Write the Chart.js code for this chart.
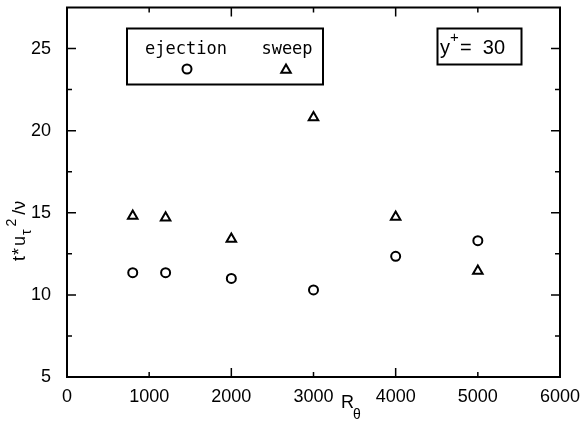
<!DOCTYPE html>
<html>
<head>
<meta charset="utf-8">
<script src="https://cdn.jsdelivr.net/npm/chart.js@4.4.1/dist/chart.umd.min.js"></script>
<style>
  html, body { margin: 0; padding: 0; background: #fff; }
  #wrap { width: 584px; height: 435px; }
</style>
</head>
<body>
<div id="wrap"><canvas id="chart" width="584" height="435"></canvas></div>
<script>
// Reynolds numbers (R_theta) and mean times between events
const reTheta = [800, 1200, 2000, 3000, 4000, 5000];
const ejection = [11.35, 11.35, 11.0, 10.3, 12.35, 13.3];
const sweep = [14.8, 14.7, 13.4, 20.8, 14.75, 11.45];
const xTicks = [0, 1000, 2000, 3000, 4000, 5000, 6000];
const yTicks = [5, 10, 15, 20, 25];
const yMinor = [7.5, 12.5, 17.5, 22.5];

const INK = '#000';
const tickFont = { family: 'Liberation Sans', size: 18 };

// frame with inward ticks on all four sides
const framePlugin = {
    id: 'frame',
    afterDraw(chart) {
        const { ctx, chartArea: a, scales: { x, y } } = chart;
        ctx.save();
        ctx.strokeStyle = INK;
        ctx.lineWidth = 2;
        ctx.strokeRect(a.left, a.top, a.right - a.left, a.bottom - a.top);
        ctx.lineWidth = 1.5;
        ctx.beginPath();
        xTicks.forEach((v, i) => {
            const px = x.getPixelForValue(v);
            const len = i % 2 === 0 ? 9 : 5;
            ctx.moveTo(px, a.bottom); ctx.lineTo(px, a.bottom - len);
            ctx.moveTo(px, a.top); ctx.lineTo(px, a.top + len);
        });
        const yt = yTicks.map(v => [v, 9]).concat(yMinor.map(v => [v, 5]));
        yt.forEach(([v, len]) => {
            const py = y.getPixelForValue(v);
            ctx.moveTo(a.left, py); ctx.lineTo(a.left + len, py);
            ctx.moveTo(a.right, py); ctx.lineTo(a.right - len, py);
        });
        ctx.stroke();
        ctx.restore();
    }
};

// axis titles with sub/superscripts
const titlesPlugin = {
    id: 'titles',
    afterDraw(chart) {
        const { ctx } = chart;
        ctx.save();
        ctx.fillStyle = INK;
        ctx.textBaseline = 'alphabetic';

        // y title: t*u_tau^2/nu, rotated
        ctx.translate(25, 261);
        ctx.rotate(-Math.PI / 2);
        let cx = 0;
        ctx.font = '18px "Liberation Sans"';
        ctx.fillText('t', cx, 0);
        cx += ctx.measureText('t').width + 1;
        ctx.fillText('*', cx, 0);
        cx += ctx.measureText('*').width + 2;
        ctx.fillText('u', cx, 0);
        cx += ctx.measureText('u').width + 1;
        ctx.font = '14px "Liberation Sans"';
        ctx.fillText('τ', cx, 6);
        const tw = ctx.measureText('τ').width;
        ctx.fillText('2', cx + tw + 3, -9);
        cx += tw + ctx.measureText('2').width + 7;
        ctx.font = '18px "Liberation Sans"';
        ctx.fillText('/ν', cx, 0);
        ctx.setTransform(1, 0, 0, 1, 0, 0);

        // x title: R_theta
        ctx.font = '18px "Liberation Sans"';
        ctx.fillText('R', 341, 408);
        ctx.font = '14px "Liberation Sans"';
        ctx.fillText('θ', 353, 419);
        ctx.restore();
    }
};

// legend box and y+ annotation box
const legendPlugin = {
    id: 'legendBoxes',
    afterDraw(chart) {
        const { ctx } = chart;
        ctx.save();
        ctx.strokeStyle = INK;
        ctx.fillStyle = INK;
        ctx.lineWidth = 2;
        ctx.strokeRect(127, 28.5, 196, 56);
        ctx.strokeRect(437.5, 28.5, 84, 36);

        ctx.font = '17px "DejaVu Sans Mono"';
        ctx.textAlign = 'center';
        ctx.textBaseline = 'alphabetic';
        ctx.fillText('ejection', 186, 54);
        ctx.fillText('sweep', 287, 54);

        const ds = chart.data.datasets;
        const drawOpts = (d) => ({
            pointStyle: d.pointStyle, radius: d.pointRadius,
            borderWidth: d.borderWidth, rotation: 0
        });
        ctx.fillStyle = '#fff';
        Chart.helpers.drawPoint(ctx, drawOpts(ds[0]), 187, 69);
        Chart.helpers.drawPoint(ctx, drawOpts(ds[1]), 286, 70);

        ctx.fillStyle = INK;
        ctx.textAlign = 'left';
        ctx.font = '20px "Liberation Sans"';
        ctx.fillText('y', 440, 54);
        ctx.font = '15px "Liberation Sans"';
        ctx.fillText('+', 450, 42);
        ctx.font = '20px "Liberation Sans"';
        ctx.fillText('=  30', 460, 54);
        ctx.restore();
    }
};

new Chart(document.getElementById('chart'), {
    type: 'scatter',
    data: {
        datasets: [
            {
                label: 'ejection',
                data: reTheta.map((r, i) => ({ x: r, y: ejection[i] })),
                pointStyle: 'circle',
                pointRadius: 4.5,
                borderWidth: 2,
                borderColor: INK,
                backgroundColor: '#fff'
            },
            {
                label: 'sweep',
                data: reTheta.map((r, i) => ({ x: r, y: sweep[i] })),
                pointStyle: 'triangle',
                pointRadius: 5.5,
                borderWidth: 2,
                borderColor: INK,
                backgroundColor: '#fff'
            }
        ]
    },
    options: {
        responsive: false,
        animation: false,
        layout: { padding: { left: 0, top: 7, right: 24, bottom: 0 } },
        scales: {
            x: {
                type: 'linear',
                min: 0,
                max: 6000,
                afterBuildTicks: s => { s.ticks = xTicks.map(v => ({ value: v })); },
                afterFit: s => { s.height = 58; s.paddingLeft = 0; s.paddingRight = 0; },
                grid: { display: false },
                border: { display: false },
                ticks: {
                    color: INK,
                    font: tickFont,
                    padding: 1,
                    maxRotation: 0,
                    callback: v => String(v)
                }
            },
            y: {
                type: 'linear',
                min: 5,
                max: 27.5,
                afterBuildTicks: s => { s.ticks = yTicks.map(v => ({ value: v })); },
                afterFit: s => { s.width = 67; s.paddingTop = 0; s.paddingBottom = 0; },
                grid: { display: false },
                border: { display: false },
                ticks: {
                    color: INK,
                    font: tickFont,
                    padding: 8,
                    callback: v => String(v)
                }
            }
        },
        plugins: {
            legend: { display: false },
            tooltip: { enabled: false }
        }
    },
    plugins: [framePlugin, titlesPlugin, legendPlugin]
});
</script>
</body>
</html>
